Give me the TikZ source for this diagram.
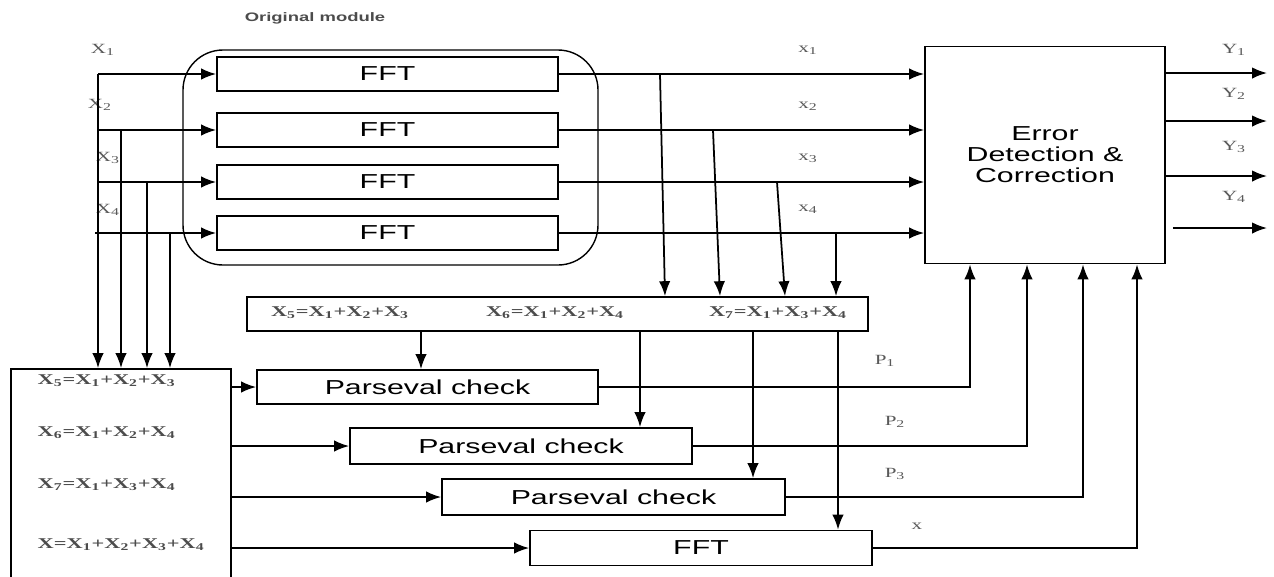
\documentclass[tikz,border=0pt]{standalone}
\usepackage{fontspec}
\setmainfont[FakeStretch=1.5]{Liberation Sans}
\newfontfamily\labelfont[FakeStretch=1.5]{Liberation Serif}
\usetikzlibrary{arrows.meta}

\newcommand{\px}[1]{#1*0.02cm}
\newcommand{\sub}[1]{\textsubscript{#1}}

\begin{document}
\begin{tikzpicture}[x=0.02cm,y=-0.02cm,line width=1pt,
    >={Latex[length=8.5pt,width=6.5pt]},
    block/.style={draw,inner sep=0pt,minimum height=\px{34},
      font=\fontsize{11.5}{12}\selectfont},
    eqn/.style={font=\labelfont\bfseries\fontsize{8.5}{10}\selectfont,text=black!70},
    tag/.style={font=\labelfont\fontsize{8}{9}\selectfont,text=black!65}]
  \useasboundingbox (0,0) rectangle (1274,576);

  % original module: four FFT blocks inside a rounded frame
  \node[draw,line width=0.8pt,rounded corners=0.8cm,minimum width=\px{415},
    minimum height=\px{215}] (orig) at (390.5,157.5) {};
  \node[font=\bfseries\fontsize{7}{8}\selectfont,text=black!70] (origlabel)
    at (315,18) {Original module};
  \node[block,minimum width=\px{341}] (fft1) at (387.5,74) {FFT};
  \node[block,minimum width=\px{341}] (fft2) at (387.5,130) {FFT};
  \node[block,minimum width=\px{341}] (fft3) at (387.5,182) {FFT};
  \node[block,minimum width=\px{341}] (fft4) at (387.5,233) {FFT};

  \node[block,minimum width=\px{240},minimum height=\px{217},align=center] (edc)
    at (1045,155) {Error\\Detection \&\\Correction};

  % sum box of the outputs
  \node[draw,minimum width=\px{621},minimum height=\px{34}] (sum) at (557.5,314) {};
  \node[eqn] (s5) at (340,313) {X\sub{5}=X\sub{1}+X\sub{2}+X\sub{3}};
  \node[eqn] (s6) at (555,313) {X\sub{6}=X\sub{1}+X\sub{2}+X\sub{4}};
  \node[eqn] (s7) at (778,313) {X\sub{7}=X\sub{1}+X\sub{3}+X\sub{4}};

  % sum box of the inputs
  \node[draw,minimum width=\px{220},minimum height=\px{212}] (eqs) at (121,475) {};
  \node[eqn,anchor=west] (q5) at (31,381) {X\sub{5}=X\sub{1}+X\sub{2}+X\sub{3}};
  \node[eqn,anchor=west] (q6) at (31,433) {X\sub{6}=X\sub{1}+X\sub{2}+X\sub{4}};
  \node[eqn,anchor=west] (q7) at (31,485) {X\sub{7}=X\sub{1}+X\sub{3}+X\sub{4}};
  \node[eqn,anchor=west] (qx) at (31,545) {X=X\sub{1}+X\sub{2}+X\sub{3}+X\sub{4}};

  \node[block,minimum width=\px{341}] (par1) at (427.5,387) {Parseval check};
  \node[block,minimum width=\px{342},minimum height=\px{36}] (par2) at (521,446) {Parseval check};
  \node[block,minimum width=\px{343},minimum height=\px{36}] (par3) at (613.5,497) {Parseval check};
  \node[block,minimum width=\px{342},minimum height=\px{35}] (fft5) at (701,548) {FFT};

  % labels
  \node[tag] (lx1) at (103,50) {X\sub{1}};
  \node[tag] (lx2) at (100,105) {X\sub{2}};
  \node[tag] (lx3) at (108,158) {X\sub{3}};
  \node[tag] (lx4) at (108,210) {X\sub{4}};
  \node[tag] (rx1) at (808,50) {x\sub{1}};
  \node[tag] (rx2) at (808,106) {x\sub{2}};
  \node[tag] (rx3) at (808,158) {x\sub{3}};
  \node[tag] (rx4) at (808,209) {x\sub{4}};
  \node[tag] (ly1) at (1234,50) {Y\sub{1}};
  \node[tag] (ly2) at (1234,94) {Y\sub{2}};
  \node[tag] (ly3) at (1234,147) {Y\sub{3}};
  \node[tag] (ly4) at (1234,197) {Y\sub{4}};
  \node[tag] (lp1) at (885,361) {P\sub{1}};
  \node[tag] (lp2) at (895,422) {P\sub{2}};
  \node[tag] (lp3) at (895,474) {P\sub{3}};
  \node[tag] (lx) at (917,526) {x};

  % inputs
  \coordinate (in1) at (98,74);
  \coordinate (in2) at (98,130);
  \coordinate (in3) at (98,182);
  \coordinate (in4) at (95,233);
  \coordinate (b2) at (121,130);
  \coordinate (b3) at (147,182);
  \coordinate (b4) at (170,233);
  \draw[->] (in1) -- (in1 |- eqs.north);
  \foreach \k in {1,...,4} \draw[->] (in\k) -- (fft\k.west);
  \foreach \k in {2,3,4} \draw[->] (b\k) -- (b\k |- eqs.north);

  % module outputs and taps to the sum box
  \foreach \k in {1,...,4} \draw[->] (fft\k.east) -- (fft\k.east -| edc.west);
  \coordinate (t1) at (660,74);  \coordinate (u1) at (665,0);
  \coordinate (t2) at (713,130); \coordinate (u2) at (720,0);
  \coordinate (t3) at (777,182); \coordinate (u3) at (785,0);
  \coordinate (t4) at (836,233); \coordinate (u4) at (836,0);
  \foreach \k in {1,...,4} \draw[->] (t\k) -- (u\k |- sum.north);

  % sum box down to the checks
  \coordinate (d1) at (421,0);
  \coordinate (d2) at (640,0);
  \coordinate (d3) at (753,0);
  \coordinate (d4) at (838,0);
  \draw[->] (d1 |- sum.south) -- (d1 |- par1.north);
  \draw[->] (d2 |- sum.south) -- (d2 |- par2.north);
  \draw[->] (d3 |- sum.south) -- (d3 |- par3.north);
  \draw[->] (d4 |- sum.south) -- (d4 |- fft5.north);

  \foreach \n in {par1,par2,par3,fft5} \draw[->] (\n.west -| eqs.east) -- (\n.west);

  % checks up to the error correction
  \coordinate (e1) at (970,0);
  \coordinate (e2) at (1027,0);
  \coordinate (e3) at (1083,0);
  \coordinate (e4) at (1137,0);
  \draw[->] (par1.east) -| (e1 |- edc.south);
  \draw[->] (par2.east) -| (e2 |- edc.south);
  \draw[->] (par3.east) -| (e3 |- edc.south);
  \draw[->] (fft5.east) -| (e4 |- edc.south);

  % outputs
  \coordinate (y1) at (1267,73);
  \coordinate (y2) at (1267,121);
  \coordinate (y3) at (1267,176);
  \coordinate (y4) at (1267,228);
  \foreach \k in {1,2,3} \draw[->] (y\k -| edc.east) -- (y\k);
  \draw[->] ([xshift=\px{7}]y4 -| edc.east) -- (y4);
\end{tikzpicture}
\end{document}
